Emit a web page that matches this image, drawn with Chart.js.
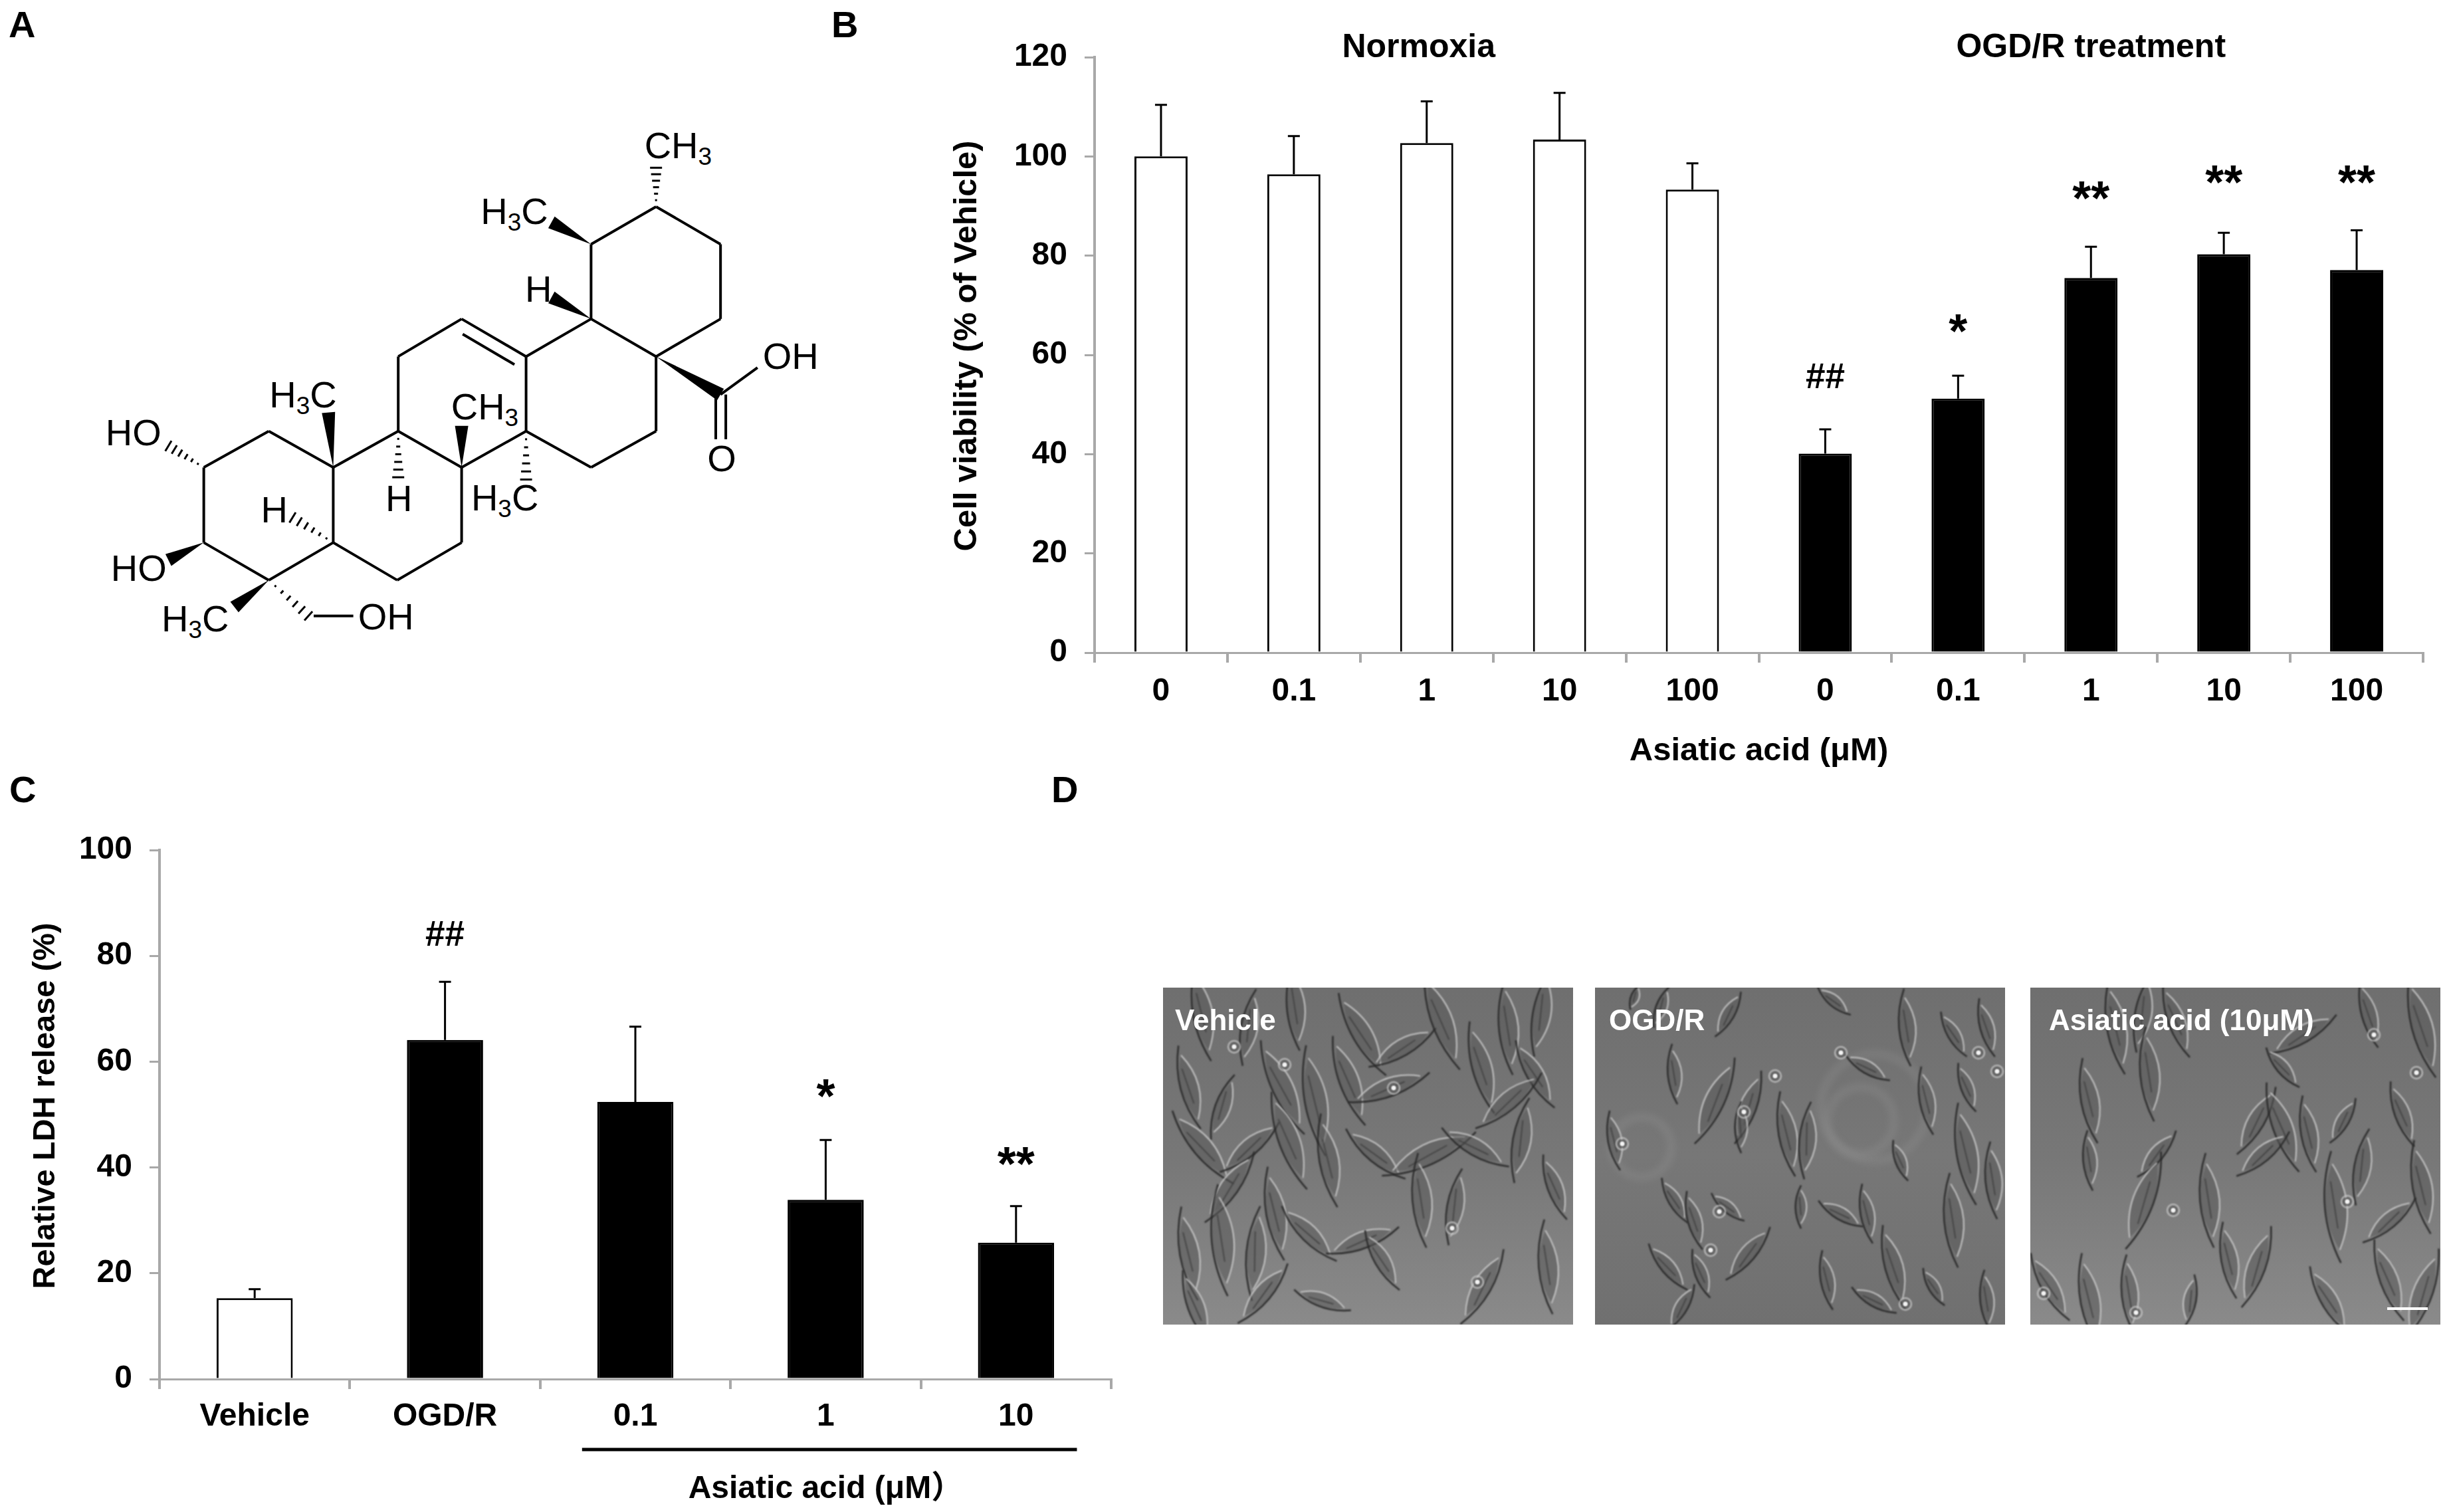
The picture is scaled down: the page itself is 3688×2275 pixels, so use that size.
<!DOCTYPE html>
<html>
<head>
<meta charset="utf-8">
<title>Asiatic acid figure</title>
<script src="https://cdn.jsdelivr.net/npm/chart.js@4"></script>
<style>
    html, body { margin: 0; padding: 0; background: #fff; }
    body { position: relative; width: 3688px; height: 2275px; overflow: hidden; font-family: "Liberation Sans", Arial, sans-serif; }
    canvas, svg { position: absolute; }
    .letter { position: absolute; font-size: 56px; font-weight: bold; line-height: 56px; color: #000; }
</style>
</head>
<body>
<div class="letter" style="left:13px;top:9px">A</div>
<div class="letter" style="left:1251px;top:9px">B</div>
<div class="letter" style="left:14px;top:1160px">C</div>
<div class="letter" style="left:1582px;top:1160px">D</div>

<svg id="molecule" style="left:-5px;top:-2px" width="1240" height="1050"></svg>
<canvas id="chartB" style="left:1420px;top:0" width="2240" height="1160"></canvas>
<canvas id="chartC" style="left:30px;top:1200px" width="1670" height="1075"></canvas>
<canvas id="micro" style="left:1750px;top:1486px" width="1925" height="507"></canvas>

<script>
// Panel B: cell viability
const labelsB = ['0', '0.1', '1', '10', '100', '0', '0.1', '1', '10', '100'];
const valuesB = [100, 96.4, 102.7, 103.4, 93.3, 40.1, 51.2, 75.5, 80.3, 77.1];
const errorsB = [10.4, 7.7, 8.4, 9.4, 5.3, 4.9, 4.6, 6.3, 4.3, 8.0];
const colorsB = ['#fff', '#fff', '#fff', '#fff', '#fff', '#000', '#000', '#000', '#000', '#000'];
const notesB = [
    { text: '##', at: 5, value: 55.3 },
    { text: '*', at: 6, value: 66.3 },
    { text: '**', at: 7, value: 93 },
    { text: '**', at: 8, value: 96.3 },
    { text: '**', at: 9, value: 96.3 },
];
const groupsB = [
    { text: 'Normoxia', at: 1.94, value: 121.8 },
    { text: 'OGD/R treatment', at: 7, value: 121.8 },
];

// Panel C: LDH release
const labelsC = ['Vehicle', 'OGD/R', '0.1', '1', '10'];
const valuesC = [15.3, 64.1, 52.4, 33.9, 25.8];
const errorsC = [1.7, 11.0, 14.2, 11.3, 6.9];
const colorsC = ['#fff', '#000', '#000', '#000', '#000'];
const notesC = [
    { text: '##', at: 1, value: 83.7 },
    { text: '*', at: 3, value: 54.8 },
    { text: '**', at: 4, value: 42.1 },
];

const AXIS_GRAY = '#a8a8a8';
const FONT = '"Liberation Sans", Arial, sans-serif';

Chart.defaults.font.family = FONT;
Chart.defaults.color = '#000';

// Error bars, stars and group headings, all placed through the chart scales
function markupPlugin(errors, notes, groups, underline) {
    return {
        id: 'markup',
        afterDatasetsDraw(chart) {
            const ctx = chart.ctx;
            const x = chart.scales.x;
            const y = chart.scales.y;
            const bars = chart.getDatasetMeta(0).data;
            const values = chart.data.datasets[0].data;
            ctx.save();
            ctx.strokeStyle = '#000';
            ctx.lineWidth = 3;
            bars.forEach(function(bar, i) {
                const top = y.getPixelForValue(values[i] + errors[i]);
                const base = y.getPixelForValue(values[i]);
                ctx.beginPath();
                ctx.moveTo(bar.x, base);
                ctx.lineTo(bar.x, top);
                ctx.moveTo(bar.x - 9, top);
                ctx.lineTo(bar.x + 9, top);
                ctx.stroke();
            });
            ctx.fillStyle = '#000';
            ctx.textAlign = 'center';
            ctx.textBaseline = 'middle';
            const step = x.getPixelForValue(1) - x.getPixelForValue(0);
            const xAt = function(at) { return x.getPixelForValue(0) + step * at; };
            notes.forEach(function(n) {
                const star = n.text.indexOf('*') >= 0;
                const size = star ? 72 : 53;
                ctx.font = 'bold ' + size + 'px ' + FONT;
                ctx.fillText(n.text, xAt(n.at), y.getPixelForValue(n.value) + (star ? size * 0.22 : 0));
            });
            ctx.font = 'bold 50px ' + FONT;
            groups.forEach(function(g) {
                ctx.fillText(g.text, xAt(g.at), y.getPixelForValue(g.value));
            });
            if (underline) {
                const lineY = chart.chartArea.bottom + 106;
                ctx.lineWidth = 5;
                ctx.beginPath();
                ctx.moveTo(xAt(underline.from), lineY);
                ctx.lineTo(xAt(underline.to), lineY);
                ctx.stroke();
                ctx.font = 'bold 48px ' + FONT + ', "Noto Sans CJK SC"';
                ctx.fillText(underline.text, xAt(underline.textAt), lineY + 60);
            }
            ctx.restore();
        },
    };
}

function createBarChart(id, labels, values, colors, cfg) {
    return new Chart(document.getElementById(id), {
        type: 'bar',
        data: {
            labels: labels,
            datasets: [{
                data: values,
                backgroundColor: colors,
                borderColor: '#000',
                borderWidth: 3,
                barPercentage: 0.4,
                categoryPercentage: 1,
            }],
        },
        options: {
            responsive: false,
            animation: false,
            layout: { padding: { top: cfg.top, right: cfg.right, left: 0, bottom: 0 } },
            plugins: { legend: { display: false }, tooltip: { enabled: false } },
            scales: {
                x: {
                    afterFit: function(s) { s.height = cfg.xHeight; },
                    grid: { offset: true, drawOnChartArea: false, color: AXIS_GRAY, lineWidth: 4, tickLength: 15 },
                    border: { color: AXIS_GRAY, width: 3, z: 1 },
                    ticks: { font: { size: 48, weight: 'bold' }, color: '#000', padding: cfg.xPad, maxRotation: 0, autoSkip: false },
                    title: cfg.xTitle ? { display: true, text: cfg.xTitle, font: { size: 49, weight: 'bold' }, color: '#000', padding: 0 } : { display: false },
                },
                y: {
                    min: 0,
                    max: cfg.max,
                    afterFit: function(s) { s.width = cfg.yWidth; },
                    grid: { drawOnChartArea: false, color: AXIS_GRAY, lineWidth: 3, tickLength: 15 },
                    border: { color: AXIS_GRAY, width: 4 },
                    ticks: { stepSize: 20, font: { size: 48, weight: 'bold' }, color: '#000', padding: 26 },
                    title: { display: true, text: cfg.yTitle, font: { size: cfg.yTitleSize, weight: 'bold' }, color: '#000', padding: { top: cfg.yTitlePad, bottom: 0 } },
                },
            },
        },
        plugins: [markupPlugin(cfg.errors, cfg.notes, cfg.groups || [], cfg.underline)],
    });
}

// the leading spaces nudge the rotated titles up, as they sit off centre in the original
createBarChart('chartB', labelsB, valuesB, colorsB, {
    top: 86, right: 14, xHeight: 178, xPad: 15, yWidth: 227, yTitlePad: 6, yTitleSize: 49, max: 120,
    xTitle: 'Asiatic acid (μM)', yTitle: '  Cell viability (% of Vehicle)',
    errors: errorsB, notes: notesB, groups: groupsB,
});

createBarChart('chartC', labelsC, valuesC, colorsC, {
    top: 79, right: 28, xHeight: 200, xPad: 13, yWidth: 210, yTitlePad: 11, yTitleSize: 47, max: 100,
    yTitle: '  Relative LDH release (%)',
    errors: errorsC, notes: notesC,
    underline: { from: 1.72, to: 4.32, textAt: 3.0, text: 'Asiatic acid (μM）' },
});

// Panel A: structure drawing. Coordinates come from the zoomed crop, scaled to px.
const KX = 0.795, KY = 0.673;
const bonds = [
    [1248,465,1370,549],[1370,549,1370,716],[1370,716,1248,800],[1248,800,1125,716],[1125,716,1125,549],[1125,549,1248,465],
    [1248,800,1248,967],[1248,967,1125,1048],[1125,1048,1002,967],[1002,967,1002,800],[1002,800,1125,716],
    [1002,800,880,716],[880,716,760,800],[760,800,760,967],[760,967,880,1048],[880,1048,1002,967],[882,750,980,818],
    [880,1048,880,1216],[880,1216,758,1300],[758,1300,637,1216],[637,1216,637,1048],[637,1048,760,967],
    [637,1048,515,967],[515,967,392,1048],[392,1048,392,1216],[392,1216,515,1300],[515,1300,637,1216],
    [1370,885,1440,825],[1361,885,1361,985],[1380,885,1380,985],[600,1380,675,1380],
];
const wedges = [
    [1125,549,1050,500],[1125,716,1050,668],[1248,800,1370,885],[637,1048,628,925],
    [880,1048,880,955],[392,1216,325,1255],[515,1300,450,1360],
];
const hashes = [
    [1248,465,1248,378],[760,967,760,1070],[1002,967,1002,1075],[392,1048,325,1000],
    [637,1216,560,1160],[515,1300,590,1380],
];
const atoms = [
    ['CH|3', 1226, 350], ['H|3|C', 916, 498], ['H', 1000, 672], ['OH', 1450, 822], ['O', 1345, 1050],
    ['H|3|C', 516, 908], ['CH|3', 860, 935], ['HO', 206, 993], ['H', 736, 1140], ['H|3|C', 898, 1138],
    ['H', 500, 1165], ['HO', 216, 1296], ['H|3|C', 312, 1408], ['OH', 684, 1404],
];

function drawMolecule() {
    let s = '';
    bonds.forEach(function(b) {
        s += '<line x1="' + b[0] * KX + '" y1="' + b[1] * KY + '" x2="' + b[2] * KX + '" y2="' + b[3] * KY + '" stroke="#000" stroke-width="4"/>';
    });
    wedges.forEach(function(w) {
        const x1 = w[0] * KX, y1 = w[1] * KY, x2 = w[2] * KX, y2 = w[3] * KY;
        const len = Math.hypot(x2 - x1, y2 - y1);
        const nx = (y1 - y2) / len * 10, ny = (x2 - x1) / len * 10;
        s += '<polygon fill="#000" points="' + x1 + ',' + y1 + ' ' + (x2 + nx) + ',' + (y2 + ny) + ' ' + (x2 - nx) + ',' + (y2 - ny) + '"/>';
    });
    hashes.forEach(function(h) {
        const x1 = h[0] * KX, y1 = h[1] * KY, x2 = h[2] * KX, y2 = h[3] * KY;
        const len = Math.hypot(x2 - x1, y2 - y1);
        for (let i = 1; i <= 6; i++) {
            const t = i / 6;
            const nx = (y1 - y2) / len * 9 * t, ny = (x2 - x1) / len * 9 * t;
            const px = x1 + (x2 - x1) * t, py = y1 + (y2 - y1) * t;
            s += '<line x1="' + (px + nx) + '" y1="' + (py + ny) + '" x2="' + (px - nx) + '" y2="' + (py - ny) + '" stroke="#000" stroke-width="3"/>';
        }
    });
    atoms.forEach(function(a) {
        const parts = a[0].split('|');
        let inner = '<tspan>' + parts[0] + '</tspan>';
        if (parts.length > 1) inner += '<tspan font-size="37" dy="10">' + parts[1] + '</tspan>';
        if (parts.length > 2) inner += '<tspan dy="-10">' + parts[2] + '</tspan>';
        s += '<text x="' + a[1] * KX + '" y="' + (a[2] * KY + 4) + '" font-size="56" font-family="Liberation Sans" fill="#000">' + inner + '</text>';
    });
    document.getElementById('molecule').innerHTML = s;
}
drawMolecule();

// Panel D: the micrographs are photos, so this is only a hand placed sketch of them
const fieldNames = ['Vehicle', 'OGD/R', 'Asiatic acid (10μM)'];
const fieldLeft = [0, 650, 1305];
const fieldLabelX = [18, 21, 28];
const FIELD_W = 617, FIELD_H = 507;
// cell: x, y, length, angle
const spindles = [
    [[60,40,110,80],[130,60,90,100],[200,30,100,85],[300,70,110,60],[360,90,90,-30],[420,50,120,70],[520,60,110,85],[570,40,100,100],[560,130,90,60],
     [40,150,100,75],[90,180,80,110],[180,150,120,65],[230,170,130,80],[280,140,110,70],[340,150,100,-20],[480,120,110,75],[520,170,100,-40],
     [60,240,110,50],[130,240,90,-40],[190,230,120,70],[250,260,110,80],[320,250,90,40],[400,250,120,-25],[470,240,90,30],[540,230,100,100],
     [100,300,100,-55],[170,340,110,80],[390,320,110,85],[440,330,90,100],[590,300,80,70],
     [40,400,110,80],[90,380,130,85],[140,400,110,95],[220,370,90,45],[300,380,90,-20],[330,410,80,60],[480,450,100,-60],[580,420,110,85],[50,480,90,70],[150,460,90,-50],[240,470,70,20]],
    [[60,15,30,110],[100,30,50,110],[200,40,60,-60],[360,20,50,40],[470,60,90,85],[540,70,60,60],[590,60,70,75],
     [120,130,70,85],[180,170,110,-65],[230,180,90,-70],[410,120,60,30],[500,170,80,80],[560,150,60,70],
     [30,230,70,80],[220,210,60,90],[290,220,100,80],[320,230,90,95],[460,260,50,70],[560,250,120,80],[600,290,90,85],
     [120,320,60,60],[150,350,70,75],[200,330,50,40],[310,330,50,90],[370,340,60,30],[410,340,70,80],[540,350,110,85],
     [110,420,70,50],[160,430,60,70],[230,400,80,-50],[350,440,70,80],[450,420,100,75],[510,450,50,60],[130,480,60,-60],[420,470,60,30],[590,470,70,85]],
    [[130,60,110,80],[170,40,90,100],[220,50,90,70],[410,70,90,-30],[510,40,80,75],[590,60,120,75],[180,130,110,85],[380,120,60,50],
     [90,170,100,80],[340,200,90,-60],[380,210,110,70],[420,220,90,80],[470,200,60,-60],[560,190,80,70],
     [90,260,70,85],[190,250,70,-50],[350,250,80,-40],[500,270,90,100],[590,300,110,80],
     [170,320,120,-70],[270,320,110,85],[460,330,130,85],[540,350,80,-40],[300,410,90,80],[340,420,100,-70],
     [30,450,90,60],[90,470,110,80],[150,460,90,85],[240,470,60,-80],[450,470,90,60],[540,440,100,70],[590,460,110,-70]],
];
// round bright cells: x, y
const brightSpots = [
    [[183,116],[107,89],[347,151],[435,362],[473,443]],
    [[370,98],[271,133],[577,98],[605,126],[224,187],[41,235],[187,337],[174,395],[467,476]],
    [[517,71],[581,128],[215,335],[477,322],[20,460],[159,489]],
];
// faint rings seen in the OGD/R field: x, y, radius
const faintRings = [[420,180,80],[400,200,50],[70,240,45]];

function drawCell(ctx, c) {
    const half = c[2] / 2;
    const w = c[2] * 0.1 + 3;
    ctx.save();
    ctx.translate(c[0], c[1]);
    ctx.rotate(c[3] * Math.PI / 180);
    ctx.beginPath();
    ctx.moveTo(-half, 0);
    ctx.quadraticCurveTo(0, -w * 2, half, 0);
    ctx.quadraticCurveTo(0, w * 2, -half, 0);
    ctx.fillStyle = 'rgba(90,90,90,0.55)';
    ctx.fill();
    // dark edge on one side, bright rim on the other, thin tails at both ends
    ctx.beginPath();
    ctx.moveTo(-half * 1.3, 0);
    ctx.quadraticCurveTo(0, w * 2.1, half * 1.3, 0);
    ctx.strokeStyle = '#2b2b2b';
    ctx.lineWidth = 2.5;
    ctx.stroke();
    ctx.beginPath();
    ctx.moveTo(-half, 0);
    ctx.quadraticCurveTo(0, -w * 2.1, half, 0);
    ctx.strokeStyle = '#c8c8c8';
    ctx.lineWidth = 2;
    ctx.stroke();
    ctx.beginPath();
    ctx.moveTo(-half * 0.6, w * 0.3);
    ctx.lineTo(half * 0.5, 0);
    ctx.strokeStyle = '#3c3c3c';
    ctx.lineWidth = 1.5;
    ctx.stroke();
    ctx.restore();
}

function drawMicrographs() {
    const ctx = document.getElementById('micro').getContext('2d');
    fieldLeft.forEach(function(left, f) {
        const g = ctx.createLinearGradient(0, 0, 0, FIELD_H);
        g.addColorStop(0, '#6f6f6f');
        g.addColorStop(0.5, '#777777');
        g.addColorStop(1, f === 1 ? '#707070' : '#8a8a8a');
        ctx.save();
        ctx.translate(left, 0);
        ctx.beginPath();
        ctx.rect(0, 0, FIELD_W, FIELD_H);
        ctx.clip();
        ctx.fillStyle = g;
        ctx.fillRect(0, 0, FIELD_W, FIELD_H);
        if (f === 1) {
            ctx.filter = 'blur(5px)';
            faintRings.forEach(function(r) {
                ctx.beginPath();
                ctx.arc(r[0], r[1], r[2], 0, Math.PI * 2);
                ctx.strokeStyle = 'rgba(170,170,170,0.16)';
                ctx.lineWidth = 14;
                ctx.stroke();
            });
        }
        ctx.filter = 'blur(1px)';
        spindles[f].forEach(function(c) { drawCell(ctx, c); });
        brightSpots[f].forEach(function(b) {
            ctx.beginPath();
            ctx.arc(b[0], b[1], 5, 0, Math.PI * 2);
            ctx.fillStyle = '#f4f4f4';
            ctx.fill();
            ctx.strokeStyle = '#3a3a3a';
            ctx.lineWidth = 2;
            ctx.stroke();
            ctx.beginPath();
            ctx.arc(b[0], b[1], 9, 0, Math.PI * 2);
            ctx.strokeStyle = '#c4c4c4';
            ctx.lineWidth = 2;
            ctx.stroke();
        });
        ctx.filter = 'none';
        ctx.fillStyle = '#fff';
        ctx.font = 'bold 44px ' + FONT;
        ctx.textBaseline = 'middle';
        ctx.fillText(fieldNames[f], fieldLabelX[f], 52);
        ctx.restore();
    });
    // scale bar
    ctx.fillStyle = '#fff';
    ctx.fillRect(1842, 481, 61, 4);
}
drawMicrographs();
</script>
</body>
</html>
